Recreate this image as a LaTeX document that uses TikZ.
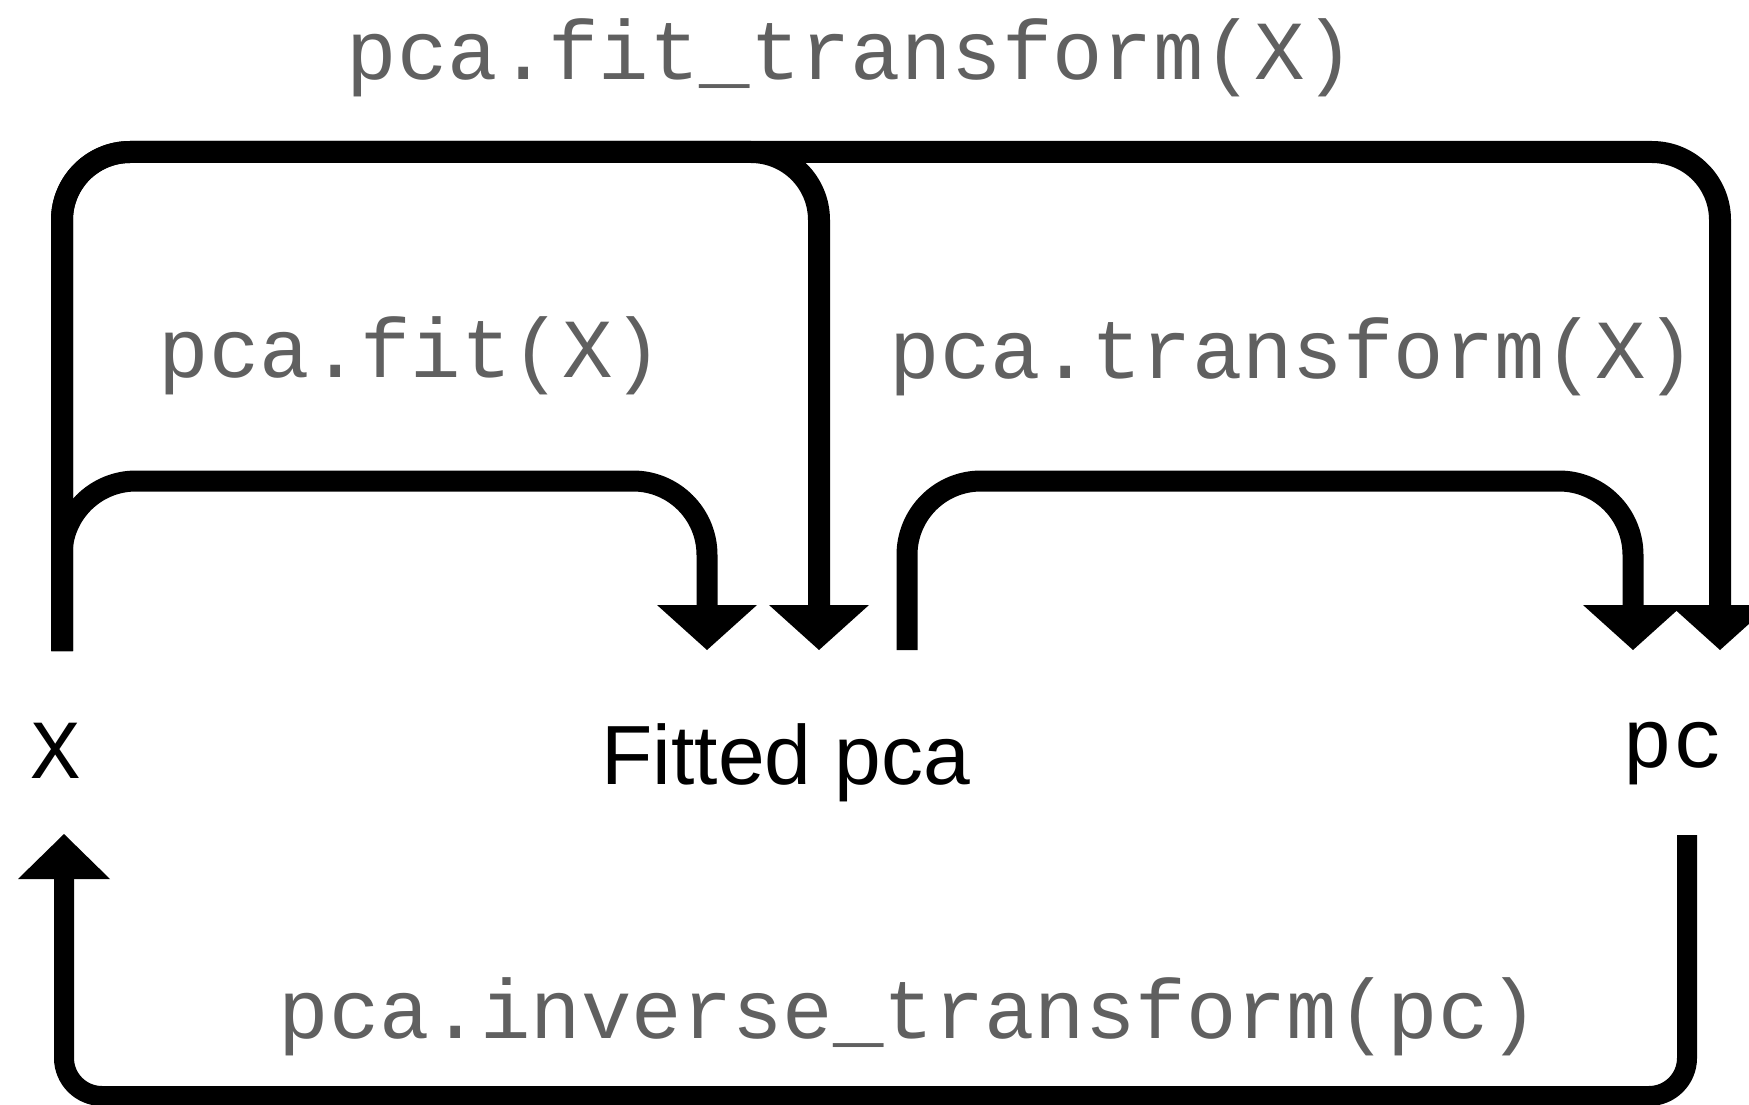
\documentclass[tikz,border=0pt]{standalone}
\usepackage{fontspec}
\setmainfont{Liberation Sans}
\setsansfont{Liberation Sans}
\setmonofont{Liberation Mono}
\usetikzlibrary{arrows.meta}
\definecolor{codegray}{RGB}{96,96,96}
\tikzset{
  codelbl/.style={inner sep=0pt, anchor=base, text=codegray, font=\ttfamily\fontsize{84}{100}\selectfont},
  varlbl/.style={inner sep=0pt, anchor=base, text=black, font=\ttfamily\fontsize{84}{100}\selectfont},
  objlbl/.style={inner sep=0pt, anchor=base, text=black, font=\sffamily\fontsize{84}{100}\selectfont},
  topconn/.style={line width=22pt, rounded corners=68pt, -{Triangle[length=45pt,width=100pt,line width=0pt]}},
  lowconn/.style={line width=21pt, rounded corners=74pt, -{Triangle[length=45pt,width=100pt,line width=0pt]}},
  backconn/.style={line width=20pt, rounded corners=38pt, -{Triangle[length=45pt,width=92pt,line width=0pt]}}
}
\begin{document}
\begin{tikzpicture}[x=1pt, y=-1pt]
\useasboundingbox (0,0) rectangle (1749,1105);
\clip (0,0) rectangle (1749,1105);

% text nodes
\node[varlbl] (xnode) at (56,778) {X};
\node[objlbl] (fitted) at (786,784) {Fitted pca};
\node[varlbl] (pcnode) at (1673,767) {pc};

\node[codelbl] (lfittr) at (851,80) {pca.fit\_transform(X)};
\node[codelbl] (lfit) at (411,377) {pca.fit(X)};
\node[codelbl] (ltr) at (1293,378) {pca.transform(X)};
\node[codelbl] (linv) at (909,1038) {pca.inverse\_transform(pc)};

% connector end points
\coordinate (xstart) at (62,651);
\coordinate (fitA) at (707,650);
\coordinate (fitB) at (819,650);
\coordinate (fitout) at (907,650);
\coordinate (pcA) at (1633,650);
\coordinate (pcB) at (1720,650);
\coordinate (pcout) at (1687,835);
\coordinate (xin) at (64,834);

% pca.fit_transform(X): X -> pc
\draw[topconn] (xstart) -- (62,152) -- (1720,152) -- (pcB);
% fit part of fit_transform: X -> Fitted pca
\draw[topconn] (xstart) -- (62,152) -- (819,152) -- (fitB);
% pca.fit(X): X -> Fitted pca
\draw[lowconn] (xstart) -- (62,481) -- (707,481) -- (fitA);
% pca.transform(X): Fitted pca -> pc
\draw[lowconn] (fitout) -- (907,481) -- (1633,481) -- (pcA);
% pca.inverse_transform(pc): pc -> X
\draw[backconn] (pcout) -- (1687,1096) -- (64,1096) -- (xin);
\end{tikzpicture}
\end{document}
